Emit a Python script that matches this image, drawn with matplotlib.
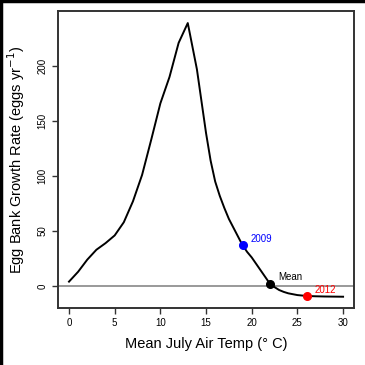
import matplotlib
matplotlib.use("Agg")
import matplotlib.pyplot as plt
from matplotlib.lines import Line2D

plt.rcParams['font.family'] = ['Liberation Sans', 'DejaVu Sans']

# growth rate curve
temps = [0, 1, 2, 3, 4, 5, 6, 7, 8, 9, 10, 11, 12, 13, 14, 15, 15.5, 16, 16.5,
         17, 17.5, 18, 18.5, 19, 19.5, 20, 20.5, 21, 21.5, 22, 22.5, 23, 23.5,
         24, 25, 26, 27, 28, 29, 30]
rates = [4, 13, 24, 33, 39, 46, 58, 77, 101, 133, 166, 190, 221, 239, 197,
         139, 114, 95, 82, 71, 61, 53, 45, 37, 31, 26, 20, 14, 8, 2, -1,
         -3.6, -5.3, -6.6, -8.2, -9, -9.3, -9.5, -9.6, -9.7]

# highlighted years
pt_labels = ["2009", "Mean", "2012"]
pt_temps = [19, 22, 26]
pt_rates = [37, 2, -9]
pt_colors = ["blue", "black", "red"]

fig = plt.figure(figsize=(3.65, 3.65), dpi=100)
ax = fig.add_axes([0.159, 0.156, 0.811, 0.814])

ax.axhline(0, color="#888888", lw=1.2, zorder=1)
ax.plot(temps, rates, color="black", lw=1.4, zorder=2)
for lab, t, r, c in zip(pt_labels, pt_temps, pt_rates, pt_colors):
    ax.plot(t, r, "o", color=c, ms=5.5, zorder=3)
    ax.annotate(lab, (t, r), xytext=(6, 1), textcoords="offset points",
                color=c, fontsize=7, va="bottom", ha="left")

ax.set_xlim(-1.2, 31.2)
ax.set_ylim(-20, 250)
ax.set_xticks([0, 5, 10, 15, 20, 25, 30])
ax.set_yticks([0, 50, 100, 150, 200])
ax.tick_params(direction="out", length=4, width=1, labelsize=7, color="#333333")
for lab in ax.get_yticklabels():
    lab.set_rotation(90)
    lab.set_va("center")
for s in ax.spines.values():
    s.set_color("#333333")
    s.set_linewidth(1.4)

ax.set_xlabel("Mean July Air Temp (° C)", fontsize=10.5, labelpad=6)
ax.set_ylabel("Egg Bank Growth Rate (eggs yr$^{-1}$)", fontsize=10.5, labelpad=8)

# dark frame along the top and left edges of the screenshot
fig.add_artist(Line2D([0, 1], [0.998, 0.998], transform=fig.transFigure, color="black", lw=2.5))
fig.add_artist(Line2D([0.002, 0.002], [0, 1], transform=fig.transFigure, color="black", lw=2.5))

fig.savefig("out.png", dpi=100)
